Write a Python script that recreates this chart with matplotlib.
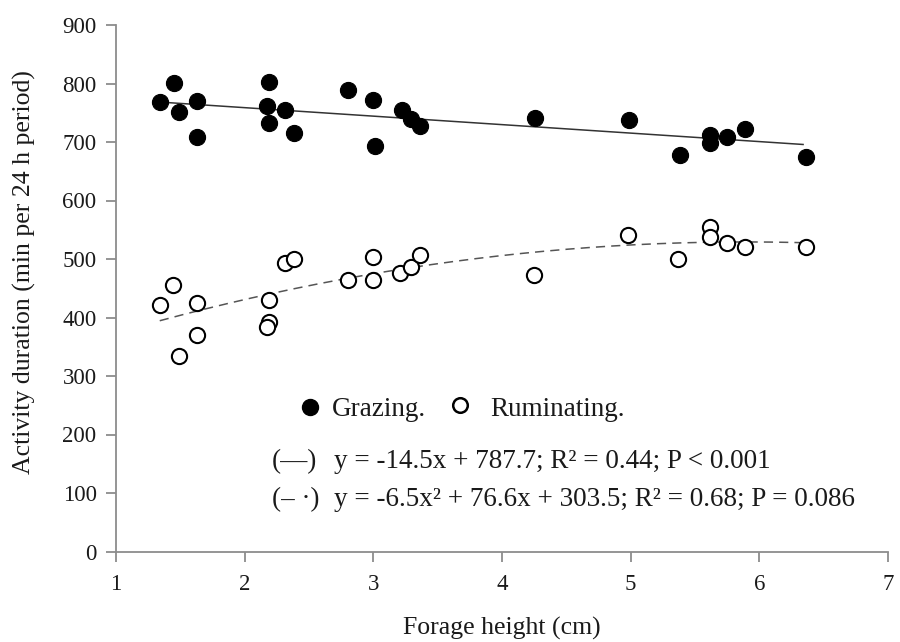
import numpy as np
import matplotlib
matplotlib.use("Agg")
import matplotlib.pyplot as plt

# Data
forage_grazing = [1.34, 1.45, 1.49, 1.63, 1.63, 2.19, 2.17, 2.19, 2.31, 2.38, 2.80, 3.00,
                  3.01, 3.22, 3.29, 3.36, 4.26, 4.99, 5.38, 5.62, 5.62, 5.75, 5.89, 6.36]
grazing = [769, 801, 752, 770, 708, 803, 762, 732, 755, 715, 789, 772,
           694, 754, 739, 728, 741, 737, 678, 712, 698, 709, 722, 674]

forage_rum = [1.34, 1.44, 1.49, 1.63, 1.63, 2.19, 2.19, 2.17, 2.31, 2.38, 2.80, 3.00,
              3.00, 3.21, 3.29, 3.36, 4.25, 4.98, 5.37, 5.62, 5.62, 5.75, 5.89, 6.36]
ruminating = [422, 455, 335, 425, 370, 430, 393, 383, 493, 500, 464, 504,
              464, 476, 487, 507, 473, 541, 500, 555, 538, 528, 521, 520]

lin_coef = [-14.5, 787.7]
quad_coef = [-6.5, 76.6, 303.5]
fit_range = [1.34, 6.34]

x_ticks = [1, 2, 3, 4, 5, 6, 7]
y_ticks = [0, 100, 200, 300, 400, 500, 600, 700, 800, 900]

plt.rcParams['font.family'] = ['Liberation Serif', 'DejaVu Serif']
txt_color = '#1a1a1a'
axis_color = '#8c8c8c'
fs_tick = 16.5
fs_lab = 18.5
fs_leg = 19.5

fig = plt.figure(figsize=(9, 6.42), dpi=100)
ax = fig.add_axes([116/900, 1-551.5/642, (888-116)/900, (551.5-25)/642])

ax.scatter(forage_grazing, grazing, s=135, c='black', edgecolors='black', linewidths=0.8, zorder=3)
ax.scatter(forage_rum, ruminating, s=120, facecolors='white', edgecolors='black', linewidths=1.5, zorder=3)

xf = np.linspace(fit_range[0], fit_range[1], 200)
ax.plot(xf, np.polyval(lin_coef, xf), color='#333333', lw=1.1, zorder=2)
ax.plot(xf, np.polyval(quad_coef, xf), color='#555555', lw=1.1, dashes=(6, 4), zorder=2)

ax.set_xlim(1, 7)
ax.set_ylim(0, 900)
ax.set_xticks(x_ticks)
ax.set_yticks(y_ticks)
for s in ['top', 'right']:
    ax.spines[s].set_visible(False)
for s in ['left', 'bottom']:
    ax.spines[s].set_color(axis_color)
    ax.spines[s].set_linewidth(1.3)
ax.tick_params(direction='out', length=7, width=1.3, color=axis_color,
               labelsize=fs_tick, labelcolor=txt_color)
ax.tick_params(axis='x', pad=9)
ax.tick_params(axis='y', pad=7)
ax.set_xlabel('Forage height (cm)', fontsize=fs_lab, color=txt_color)
ax.set_ylabel('Activity duration (min per 24 h period)', fontsize=fs_lab, color=txt_color)
ax.xaxis.set_label_coords(0.5, -0.125)
ax.yaxis.set_label_coords(-0.103, 0.53)

# Legend block (pixel positions in figure coords)
def fx(px):
    return px / 900
def fy(py):
    return 1 - py / 642

fig.lines.append(plt.Line2D([fx(310)], [fy(407)], marker='o', markersize=11.5,
                            color='black', transform=fig.transFigure))
fig.text(fx(332), fy(409), 'Grazing.', fontsize=fs_leg, color=txt_color, va='center')
fig.lines.append(plt.Line2D([fx(460)], [fy(405)], marker='o', markersize=10.5,
                            markerfacecolor='white', markeredgecolor='black',
                            markeredgewidth=1.8, color='black', transform=fig.transFigure))
fig.text(fx(490), fy(409), 'Ruminating.', fontsize=fs_leg, color=txt_color, va='center')

fig.text(fx(272), fy(462), '(—)', fontsize=fs_leg, color=txt_color, va='center')
fig.text(fx(334), fy(462), 'y = -14.5x + 787.7; R² = 0.44; P < 0.001', fontsize=fs_leg,
         color=txt_color, va='center')
fig.text(fx(272), fy(500), '(‒ ·)', fontsize=fs_leg, color=txt_color, va='center')
fig.text(fx(334), fy(500), 'y = -6.5x² + 76.6x + 303.5; R² = 0.68; P = 0.086', fontsize=fs_leg,
         color=txt_color, va='center')

fig.savefig('out.png', dpi=100)
